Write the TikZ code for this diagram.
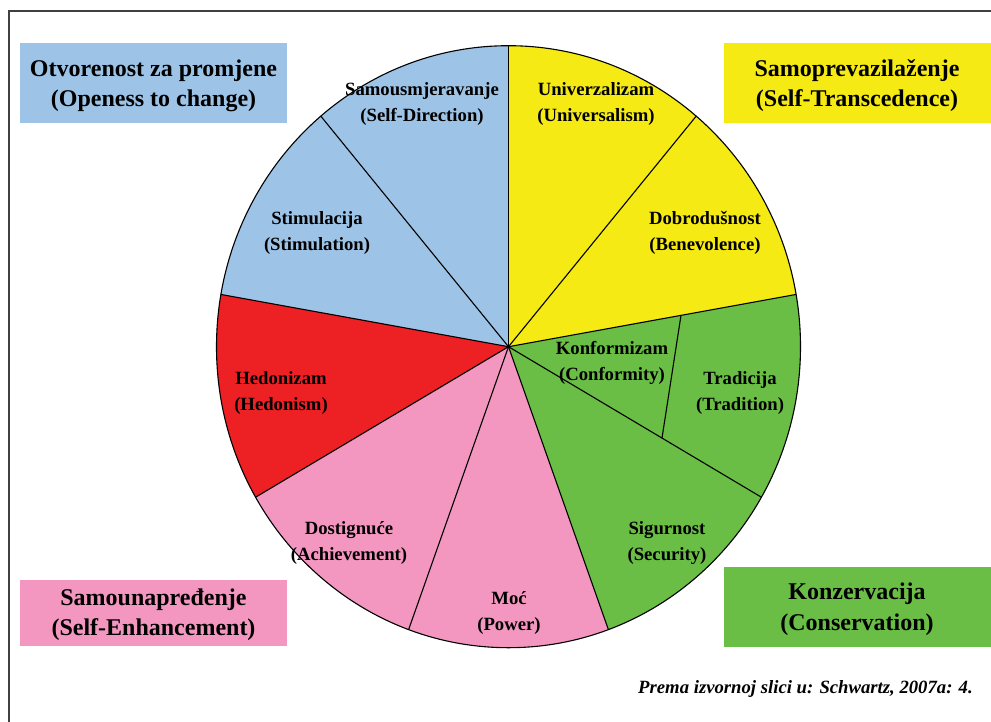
\documentclass[tikz,border=0pt]{standalone}
\usepackage{fontspec}
\setmainfont{Liberation Serif}
\definecolor{cblue}{RGB}{157,195,230}
\definecolor{cyellow}{RGB}{245,234,20}
\definecolor{cgreen}{RGB}{106,189,69}
\definecolor{cred}{RGB}{237,32,36}
\definecolor{cpink}{RGB}{243,151,192}
\definecolor{cframe}{RGB}{64,64,64}
\begin{document}
\begin{tikzpicture}[x=1pt,y=-1pt,
  wedgelabel/.style={align=center,font=\bfseries\fontsize{18.7}{25.5}\selectfont,inner sep=0pt},
  groupbox/.style={minimum width=267pt,minimum height=80pt,inner sep=0pt},
  grouptext/.style={align=center,font=\bfseries\fontsize{24}{30}\selectfont,inner sep=0pt},
  spoke/.style={line width=1.1pt,black}]
\useasboundingbox (0,0) rectangle (991,721);
\draw[cframe,line width=2pt] (9,723) -- (9,11) -- (993,11);
% pie
\begin{scope}[shift={(508.5,346.7)},y=1pt]
\fill[cblue]   (0,0) -- (90:292 and 301) arc[start angle=90,end angle=170,x radius=292,y radius=301] -- cycle;
\fill[cred]    (0,0) -- (170:292 and 301) arc[start angle=170,end angle=210,x radius=292,y radius=301] -- cycle;
\fill[cpink]   (0,0) -- (210:292 and 301) arc[start angle=210,end angle=290,x radius=292,y radius=301] -- cycle;
\fill[cgreen]  (0,0) -- (290:292 and 301) arc[start angle=290,end angle=370,x radius=292,y radius=301] -- cycle;
\fill[cyellow] (0,0) -- (10:292 and 301) arc[start angle=10,end angle=90,x radius=292,y radius=301] -- cycle;
\foreach \a in {90,50,10,-30,-70,-110,-150,170,130}
  \draw[spoke] (0,0) -- (\a:292 and 301);
\draw[spoke] (172.5,31.4) -- (153.5,-91.4);
\draw[spoke] (0,0) ellipse [x radius=292,y radius=301];
\end{scope}
% wedge labels
\node[wedgelabel] (sd) at (422,104) {Samousmjeravanje\\(Self-Direction)};
\node[wedgelabel] (un) at (596,104) {Univerzalizam\\(Universalism)};
\node[wedgelabel] (be) at (705,233) {Dobrodušnost\\(Benevolence)};
\node[wedgelabel] (st) at (317,233) {Stimulacija\\(Stimulation)};
\node[wedgelabel] (he) at (281,393) {Hedonizam\\(Hedonism)};
\node[wedgelabel] (co) at (612,363) {Konformizam\\(Conformity)};
\node[wedgelabel] (tr) at (740,393) {Tradicija\\(Tradition)};
\node[wedgelabel] (se) at (667,543) {Sigurnost\\(Security)};
\node[wedgelabel] (po) at (509,613) {Moć\\(Power)};
\node[wedgelabel] (ac) at (349,543) {Dostignuće\\(Achievement)};
% group boxes
\node[groupbox,fill=cblue] (open) at (153.5,83) {};
\node[groupbox,fill=cyellow] (trans) at (857,83) {};
\node[groupbox,fill=cpink,minimum height=66pt] (enh) at (153.5,613) {};
\node[groupbox,fill=cgreen] (cons) at (857,607) {};
\node[grouptext] (opent) at ([yshift=-3pt]open.center) {Otvorenost za promjene\\(Openess to change)};
\node[grouptext] (transt) at ([yshift=-3pt]trans.center) {Samoprevazilaženje\\(Self-Transcedence)};
\node[grouptext] (enht) at ([yshift=-2pt]enh.center) {Samounapređenje\\(Self-Enhancement)};
\node[grouptext,font=\bfseries\fontsize{24}{31}\selectfont] (const) at ([yshift=-2pt]cons.center) {Konzervacija\\(Conservation)};
% source
\node[inner sep=0pt,font=\bfseries\itshape\fontsize{18.7}{22}\selectfont] (src) at (805.5,689) {Prema izvornoj slici u: Schwartz, 2007a: 4.};
\end{tikzpicture}
\end{document}
